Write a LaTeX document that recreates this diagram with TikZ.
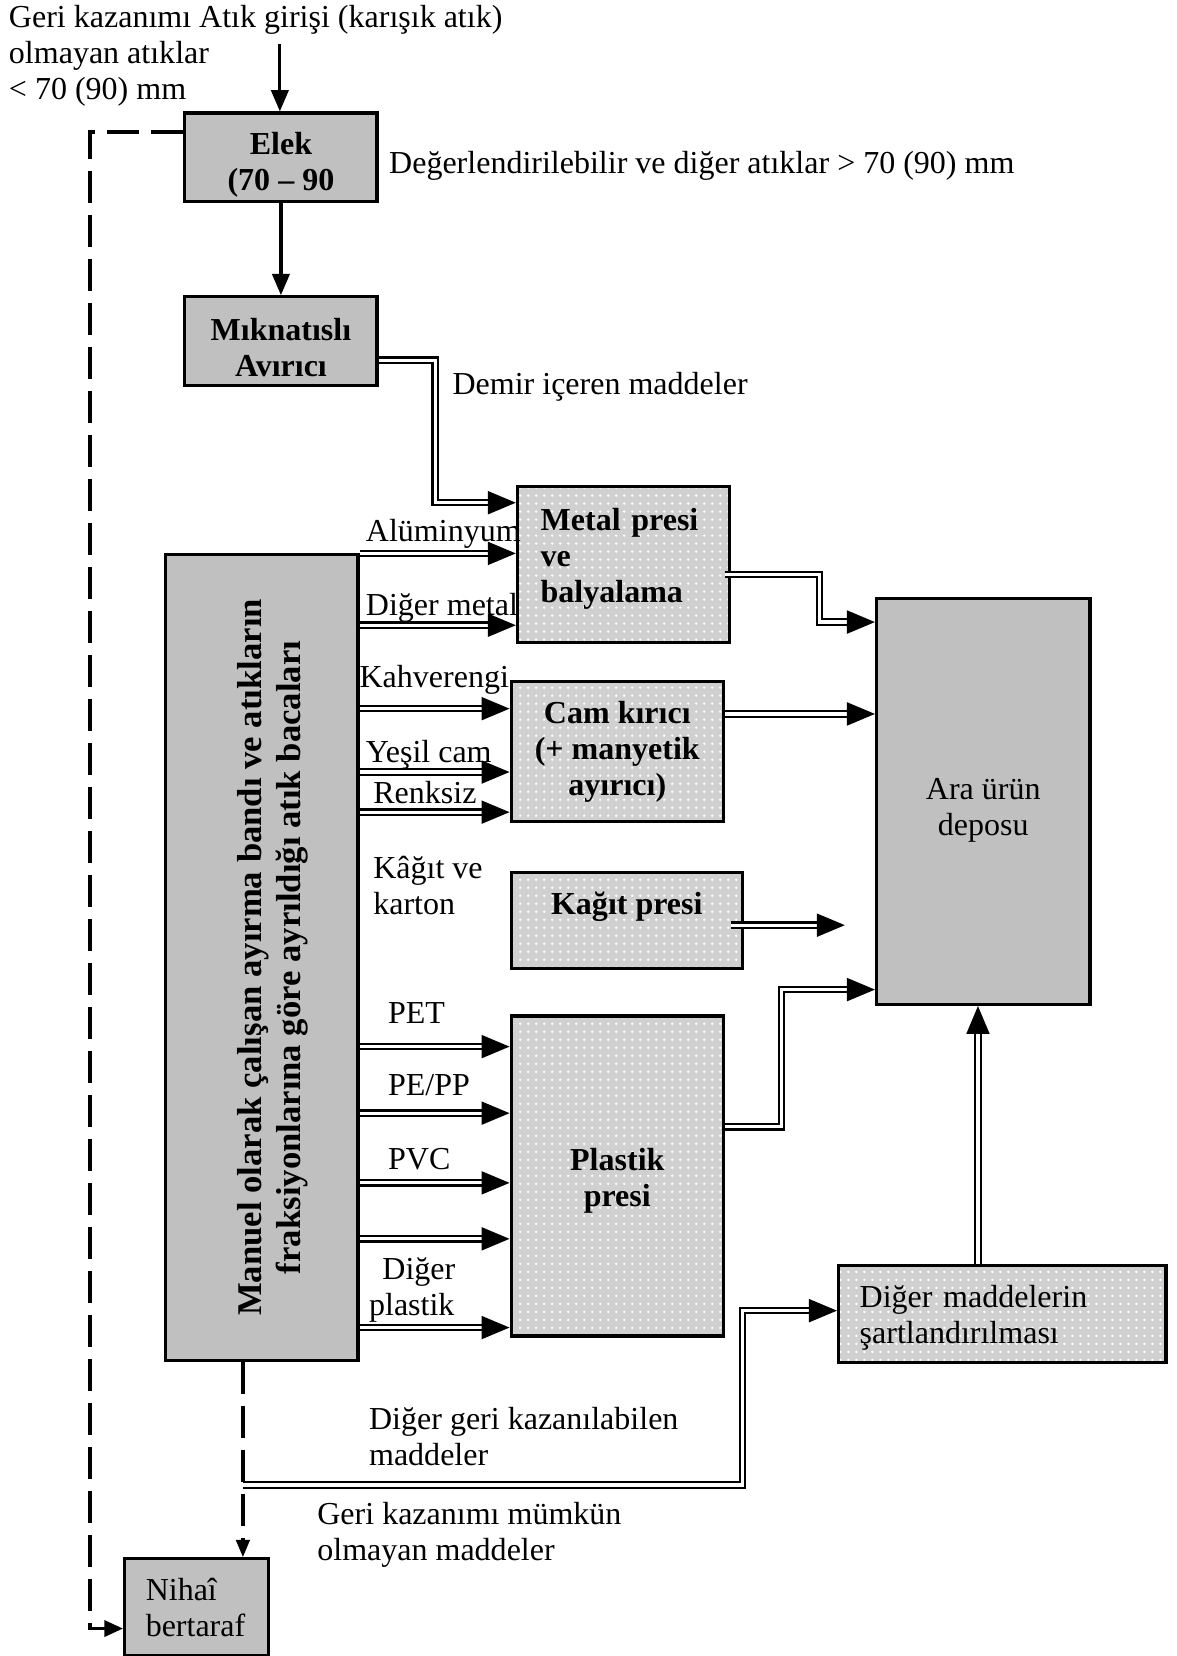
\documentclass[tikz,border=0pt]{standalone}
\usepackage{fontspec}
\setmainfont{Liberation Serif}
\usetikzlibrary{calc,patterns,arrows.meta,positioning}

\definecolor{boxgrey}{HTML}{C0C0C0}
\definecolor{dotgrey}{HTML}{D0D0D0}
\newcommand{\unitpx}{0.3959pt}

\tikzset{
  boxsize/.style 2 args={minimum width=#1*\unitpx, minimum height=#2*\unitpx},
  greybox/.style={draw, line width=1.2pt, fill=boxgrey, inner sep=0pt},
  dotbox/.style={draw, line width=1.2pt, preaction={fill=dotgrey}, pattern=dots, pattern color=white, inner sep=0pt},
  bold/.style={font=\fontsize{12}{13.5}\selectfont\bfseries},
  lbl/.style={anchor=west, inner sep=0pt, align=left},
  sarr/.style={line width=1.2pt, -{Triangle[length=8pt,width=6.5pt]}},
  dbl/.style={double, double distance=1.2pt, line width=0.8pt, -{Triangle[length=10.5pt,width=8.6pt]}},
  dsh/.style={line width=1.3pt, dash pattern=on 12pt off 4.5pt}
}

\begin{document}
\begin{tikzpicture}[x=0.3959pt, y=-0.3959pt, font=\fontsize{12}{13.5}\selectfont]
  \useasboundingbox (0,0) rectangle (1114,1568);

  % boxes
  \node[greybox, boxsize={182}{84}, bold, align=center, text height=27.4pt] (elek) at (266,149) {Elek\\(70 – 90};
  \node[greybox, boxsize={182}{84}, bold, align=center, text height=26.4pt] (mik) at (266,323) {Mıknatıslı\\Avırıcı};
  \node[dotbox, boxsize={201}{147}, bold, align=left, inner xsep=8.7pt, text width=62.2pt, text depth=34pt] (metal) at (590.5,534.5) {Metal presi\\ve\\balyalama};
  \node[dotbox, boxsize={201}{133}, bold, align=center] (cam) at (584.5,711.5) {Cam kırıcı\\(+ manyetik\\ayırıcı)};
  \node[dotbox, boxsize={219}{91}, bold, text depth=13pt] (kagit) at (593.5,871.5) {Kağıt presi};
  \node[dotbox, boxsize={201}{303}, bold, align=center, text height=25.4pt] (plastik) at (584.5,1113.5) {Plastik\\presi};
  \node[greybox, boxsize={202}{384}, align=center, text height=27.6pt] (ara) at (931,759) {Ara ürün\\deposu};
  \node[dotbox, boxsize={310}{92}, align=left, inner xsep=7.9pt, text width=106.9pt, text height=11pt] (diger) at (949,1244) {Diğer maddelerin\\şartlandırılması};
  \node[greybox, boxsize={182}{763}] (manuel) at (248,906.5) {};
  \node[rotate=90, align=center, inner sep=0pt, font=\fontsize{13}{14.6}\selectfont\bfseries] (manueltxt) at ($(manuel.center)+(10,0)$) {Manuel olarak çalışan ayırma bandı ve atıkların\\fraksiyonlarına göre ayrıldığı atık bacaları};
  \node[greybox, boxsize={136}{92}, align=left, inner xsep=7.9pt, text width=38pt] (nihai) at (186,1522) {Nihaî\\bertaraf};

  % labels
  \node[lbl] (giris) at (8,53) {Geri kazanımı Atık girişi (karışık atık)\\olmayan atıklar\\< 70 (90) mm};
  \node[lbl] (deger) at (368,157) {Değerlendirilebilir ve diğer atıklar > 70 (90) mm};
  \node[lbl] (demir) at (428,366) {Demir içeren maddeler};
  \node[lbl] (alu) at (346,505) {Alüminyum};
  \node[lbl] (digmet) at (346,576) {Diğer metal};
  \node[lbl] (kahve) at (340,644) {Kahverengi};
  \node[lbl] (yesil) at (346,715) {Yeşil cam};
  \node[lbl] (renksiz) at (353,750) {Renksiz};
  \node[lbl] (kagitlbl) at (353,838) {Kâğıt ve\\karton};
  \node[lbl] (pet) at (367,959) {PET};
  \node[lbl] (pepp) at (367,1027) {PE/PP};
  \node[lbl] (pvc) at (367,1098) {PVC};
  \node[lbl] (digplas) at (349,1221) {\hspace*{5pt}Diğer\\plastik};
  \node[lbl] (diggeri) at (349,1360) {Diğer geri kazanılabilen\\maddeler};
  \node[lbl] (gerikaz) at (300,1453) {Geri kazanımı mümkün\\olmayan maddeler};

  % main line
  \coordinate (feed) at (265,42);
  \draw[sarr] (feed) -- (elek.north -| feed);
  \draw[sarr] (elek) -- (mik);
  \draw[dbl] (mik.east |- 0,341) -| (412,476) -- (metal.west |- 0,476);

  % sorting belt outputs
  \draw[dbl] (manuel.east |- 0,524) -- (metal.west |- 0,524);
  \draw[dbl] (manuel.east |- 0,592) -- (metal.west |- 0,592);
  \draw[dbl] (manuel.east |- 0,671) -- (cam.west |- 0,671);
  \draw[dbl] (manuel.east |- 0,731) -- (cam.west |- 0,731);
  \draw[dbl] (manuel.east |- 0,769) -- (cam.west |- 0,769);
  \draw[dbl] (manuel.east |- 0,991) -- (plastik.west |- 0,991);
  \draw[dbl] (manuel.east |- 0,1054) -- (plastik.west |- 0,1054);
  \draw[dbl] (manuel.east |- 0,1120) -- (plastik.west |- 0,1120);
  \draw[dbl] (manuel.east |- 0,1173) -- (plastik.west |- 0,1173);
  \draw[dbl] (manuel.east |- 0,1257) -- (plastik.west |- 0,1257);

  % to intermediate storage
  \draw[dbl] ($(metal.east |- 0,544)+(-6,0)$) -| (776,589) -- (ara.west |- 0,589);
  \draw[dbl] (cam.east |- 0,676) -- (ara.west |- 0,676);
  \coordinate (kagitend) at (800,876);
  \draw[dbl] ($(kagit.east |- kagitend)+(-12,0)$) -- (kagitend);
  \draw[dbl] (plastik.east |- 0,1067) -| (740,937) -- (ara.west |- 0,937);
  \draw[dbl] (diger.north -| 926,0) -- (ara.south -| 926,0);

  % residues
  \coordinate (split) at (230,1406);
  \draw[dbl] (split) -| (703,1241) -- (diger.west |- 0,1241);
  \draw[dsh, -{Triangle[length=7pt,width=6pt]}] (elek.west |- 0,125) -| (85,1542) -- (nihai.west |- 0,1542);
  \draw[dsh, -{Triangle[length=6.5pt,width=5pt]}] (manuel.south -| split) -- (nihai.north -| split);
\end{tikzpicture}
\end{document}
